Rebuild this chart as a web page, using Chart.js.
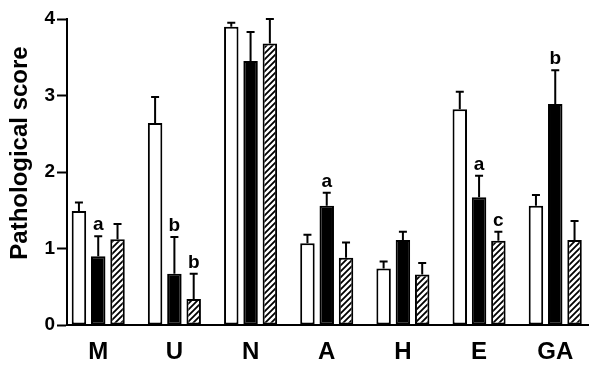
<!DOCTYPE html>
<html>
<head>
<meta charset="utf-8">
<script src="https://cdn.jsdelivr.net/npm/chart.js@4.4.1/dist/chart.umd.min.js"></script>
<style>
  html, body { margin: 0; padding: 0; background: #fff; }
  #wrap { width: 589px; height: 366px; }
</style>
</head>
<body>
<div id="wrap"><canvas id="myChart" width="589" height="366"></canvas></div>
<script>
const categories = ['M', 'U', 'N', 'A', 'H', 'E', 'GA'];
const yTicks = [0, 1, 2, 3, 4];

// open bars
const openMeans = [1.49, 2.64, 3.90, 1.07, 0.74, 2.82, 1.56];
const openErrors = [0.11, 0.34, 0.05, 0.11, 0.09, 0.23, 0.14];
const openLetters = ['', '', '', '', '', '', ''];

// solid bars
const solidMeans = [0.90, 0.67, 3.45, 1.56, 1.11, 1.67, 2.89];
const solidErrors = [0.26, 0.48, 0.38, 0.17, 0.11, 0.28, 0.44];
const solidLetters = ['a', 'b', '', 'a', '', 'a', 'b'];

// hatched bars
const hatchMeans = [1.12, 0.34, 3.68, 0.88, 0.66, 1.10, 1.11];
const hatchErrors = [0.20, 0.33, 0.32, 0.20, 0.15, 0.12, 0.25];
const hatchLetters = ['', 'b', '', '', '', 'c', ''];

const FONT = 'Liberation Sans, Arial, Helvetica, sans-serif';

// diagonal "////" fill
function makeHatch() {
    const c = document.createElement('canvas');
    c.width = 6;
    c.height = 6;
    const g = c.getContext('2d');
    g.fillStyle = '#fff';
    g.fillRect(0, 0, 6, 6);
    g.strokeStyle = '#000';
    g.lineWidth = 1.8;
    g.beginPath();
    g.moveTo(-1, 7); g.lineTo(7, -1);
    g.moveTo(-2, 2); g.lineTo(2, -2);
    g.moveTo(4, 8); g.lineTo(8, 4);
    g.stroke();
    return g.createPattern(c, 'repeat');
}

const toPoints = vals => vals.map((v, i) => ({ x: i, y: v }));

// error bars (upward only, with cap) and significance letters
const errorBarPlugin = {
    id: 'errorBars',
    afterDatasetsDraw(chart) {
        const ctx = chart.ctx;
        const yScale = chart.scales.y;
        chart.data.datasets.forEach((ds, di) => {
            const meta = chart.getDatasetMeta(di);
            meta.data.forEach((bar, i) => {
                const top = yScale.getPixelForValue(ds.means[i] + ds.errors[i]);
                ctx.save();
                ctx.strokeStyle = '#000';
                ctx.lineWidth = 2;
                ctx.beginPath();
                ctx.moveTo(bar.x, bar.y);
                ctx.lineTo(bar.x, top);
                ctx.moveTo(bar.x - 4, top);
                ctx.lineTo(bar.x + 4, top);
                ctx.stroke();
                if (ds.letters[i]) {
                    ctx.fillStyle = '#000';
                    ctx.font = 'bold 19px ' + FONT;
                    ctx.textAlign = 'center';
                    ctx.textBaseline = 'alphabetic';
                    ctx.fillText(ds.letters[i], bar.x, top - 6);
                }
                ctx.restore();
            });
        });
    }
};

// rotated y title, sits a bit above the axis middle like the original
const yTitlePlugin = {
    id: 'yTitle',
    afterDraw(chart) {
        const ctx = chart.ctx;
        ctx.save();
        ctx.translate(27, 153);
        ctx.rotate(-Math.PI / 2);
        ctx.font = 'bold 24px ' + FONT;
        ctx.fillStyle = '#000';
        ctx.textAlign = 'center';
        ctx.textBaseline = 'alphabetic';
        ctx.fillText('Pathological score', 0, 0);
        ctx.restore();
    }
};

const hatch = makeHatch();

const ctx = document.getElementById('myChart').getContext('2d');
new Chart(ctx, {
    type: 'bar',
    data: {
        datasets: [
            {
                label: 'open',
                data: toPoints(openMeans),
                means: openMeans, errors: openErrors, letters: openLetters,
                backgroundColor: '#fff',
                borderColor: '#000',
                borderWidth: 2,
                borderSkipped: false,
            },
            {
                label: 'solid',
                data: toPoints(solidMeans),
                means: solidMeans, errors: solidErrors, letters: solidLetters,
                backgroundColor: '#000',
                borderColor: '#000',
                borderWidth: 2,
                borderSkipped: false,
            },
            {
                label: 'hatched',
                data: toPoints(hatchMeans),
                means: hatchMeans, errors: hatchErrors, letters: hatchLetters,
                backgroundColor: hatch,
                borderColor: '#000',
                borderWidth: 2,
                borderSkipped: false,
            },
        ],
    },
    options: {
        responsive: false,
        animation: false,
        categoryPercentage: 0.76,
        barPercentage: 0.75,
        layout: { padding: { top: 19, right: 1, left: 0, bottom: 0 } },
        plugins: {
            legend: { display: false },
            tooltip: { enabled: false },
        },
        scales: {
            x: {
                type: 'linear',
                offset: false,
                min: -0.41,
                max: 6.43,
                afterBuildTicks: s => { s.ticks = categories.map((c, i) => ({ value: i })); },
                afterFit: s => { s.height = 41; },
                ticks: {
                    callback: (v, i) => categories[i],
                    autoSkip: false,
                    maxRotation: 0,
                    color: '#000',
                    padding: 13,
                    font: { family: FONT, size: 24, weight: 'bold' },
                },
                grid: { display: true, drawOnChartArea: false, drawTicks: false },
                border: { display: true, color: '#000', width: 2 },
            },
            y: {
                min: 0,
                max: 4,
                afterBuildTicks: s => { s.ticks = yTicks.map(v => ({ value: v })); },
                afterFit: s => { s.width = 67; },
                ticks: {
                    color: '#000',
                    padding: 2,
                    font: { family: FONT, size: 19, weight: 'bold' },
                },
                grid: {
                    display: true,
                    drawOnChartArea: false,
                    drawTicks: true,
                    tickLength: 10,
                    tickWidth: 2,
                    tickColor: '#000',
                },
                border: { display: true, color: '#000', width: 2 },
            },
        },
    },
    plugins: [errorBarPlugin, yTitlePlugin],
});
</script>
</body>
</html>
